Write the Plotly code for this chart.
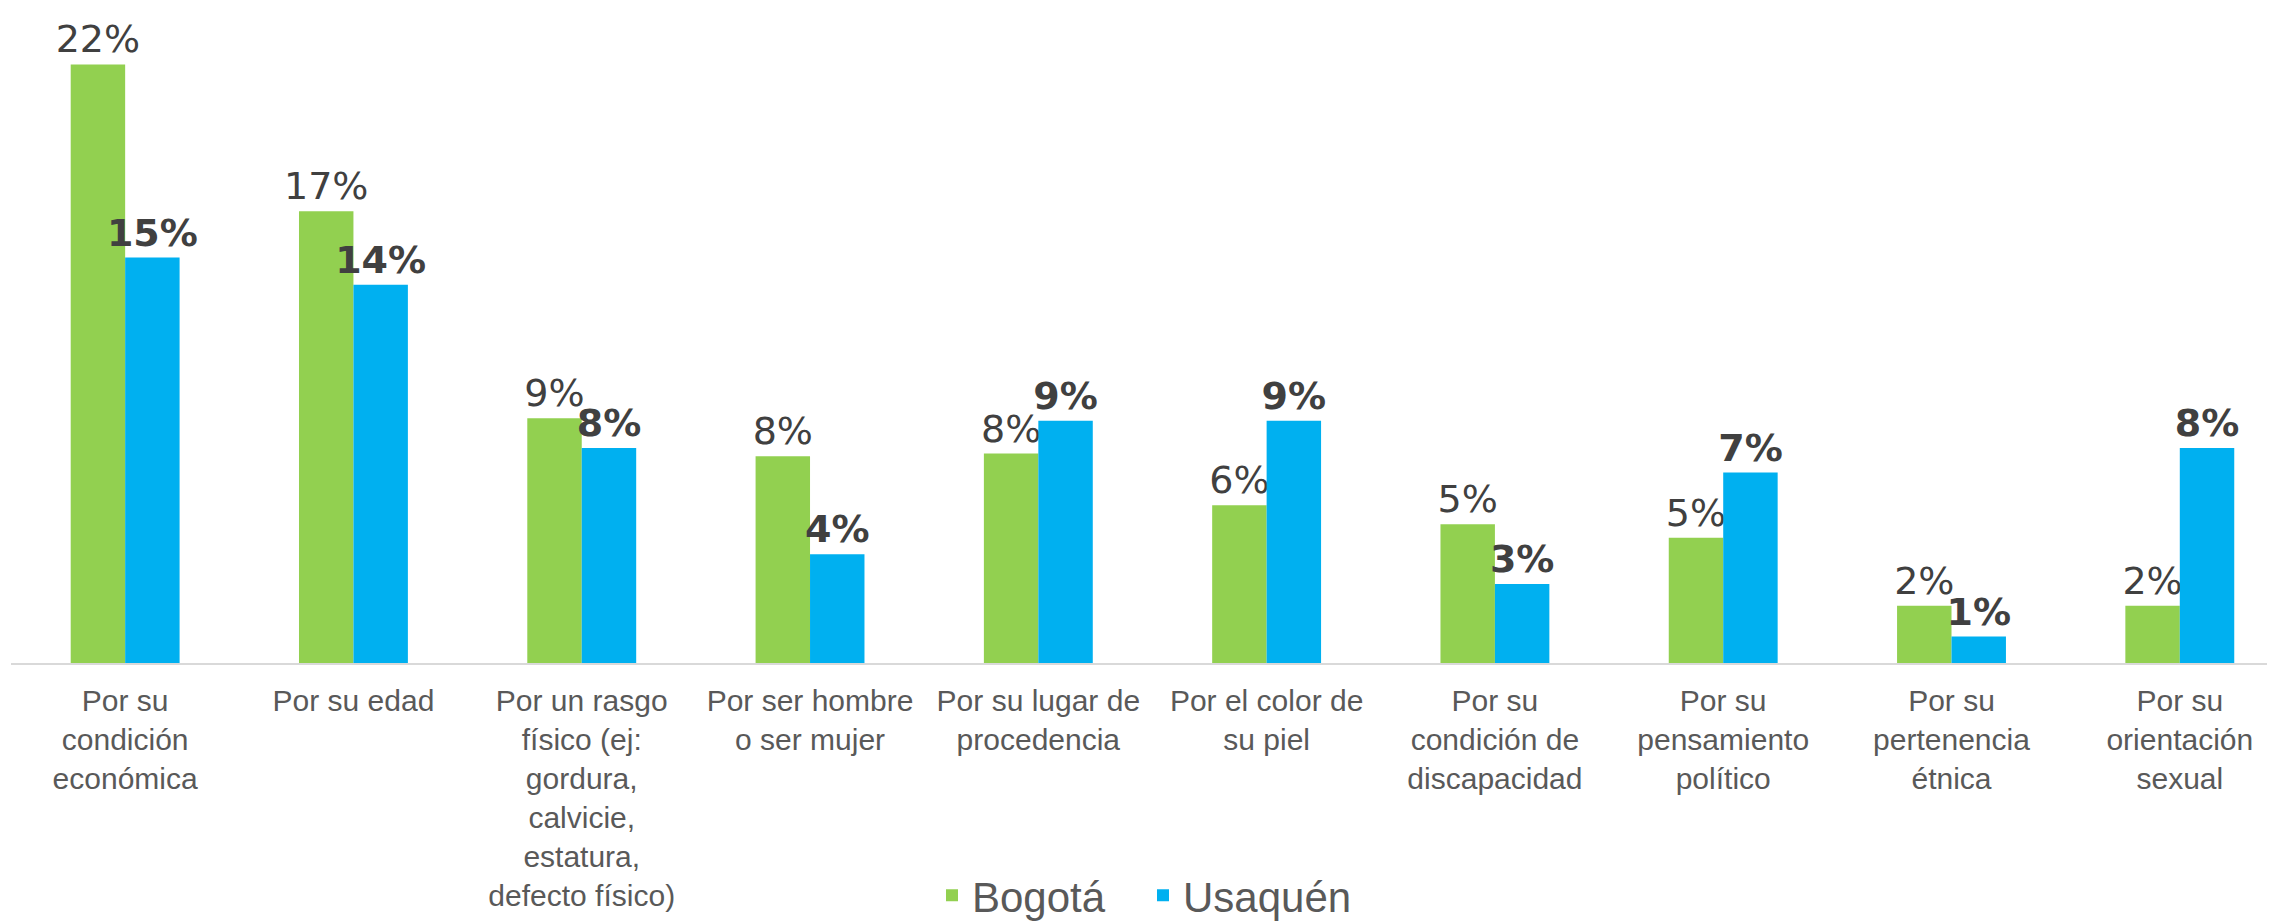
import plotly.graph_objects as go

categories = [
    "Por su<br>condición<br>económica",
    "Por su edad",
    "Por un rasgo<br>físico (ej:<br>gordura,<br>calvicie,<br>estatura,<br>defecto físico)",
    "Por ser hombre<br>o ser mujer",
    "Por su lugar de<br>procedencia",
    "Por el color de<br>su piel",
    "Por su<br>condición de<br>discapacidad",
    "Por su<br>pensamiento<br>político",
    "Por su<br>pertenencia<br>étnica",
    "Por su<br>orientación<br>sexual",
]
bogota = [0.220, 0.166, 0.090, 0.076, 0.077, 0.058, 0.051, 0.046, 0.021, 0.021]
usaquen = [0.149, 0.139, 0.079, 0.040, 0.089, 0.089, 0.029, 0.070, 0.0097, 0.079]
series_names = ["Bogotá", "Usaquén"]
colors = ["#92D050", "#00B0F0"]

fig = go.Figure()
fig.add_trace(go.Bar(
    x=categories, y=bogota, name=series_names[0],
    marker=dict(color=colors[0], line=dict(width=0)),
    text=[f"{round(v*100):.0f}%" for v in bogota],
    textposition="outside", constraintext="none", cliponaxis=False,
    textfont=dict(family="DejaVu Sans", size=38, color="#404040"),
))
fig.add_trace(go.Bar(
    x=categories, y=usaquen, name=series_names[1],
    marker=dict(color=colors[1], line=dict(width=0)),
    text=[f"<b>{round(v*100):.0f}%</b>" for v in usaquen],
    textposition="outside", constraintext="none", cliponaxis=False,
    textfont=dict(family="DejaVu Sans", size=38, color="#404040"),
))

fig.update_layout(
    width=2267, height=915,
    margin=dict(l=3, r=0, t=2, b=260, autoexpand=False),
    paper_bgcolor="white", plot_bgcolor="white",
    barmode="group", bargap=0.523, bargroupgap=0,
    showlegend=True,
    legend=dict(orientation="h", x=0.5, xanchor="center", y=-0.408, yanchor="bottom",
                font=dict(family="Liberation Sans, Arial", size=42, color="#595959"),
                itemsizing="constant", traceorder="normal", entrywidth=166,
                entrywidthmode="pixels"),
)
fig.update_xaxes(
    range=[-0.5, 9.417], showline=True, linecolor="#d9d9d9", linewidth=2,
    ticks="", showgrid=False, tickangle=0, automargin=False, ticklabelstandoff=10,
    tickfont=dict(family="Liberation Sans, Arial", size=30, color="#595959"),
)
fig.update_yaxes(range=[0, 0.24], visible=False, showgrid=False, automargin=False)

fig.write_html("out.html")
